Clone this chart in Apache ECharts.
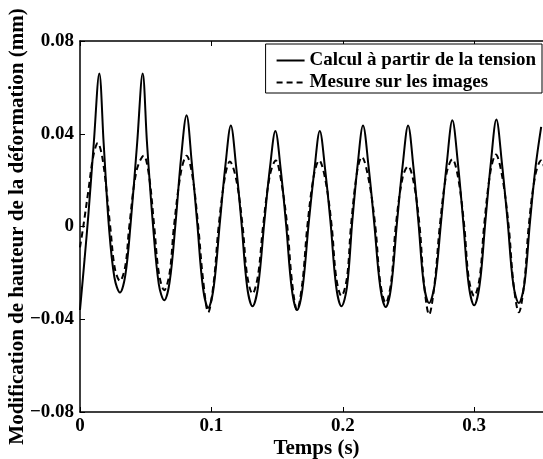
<!DOCTYPE html>
<html>
<head>
<meta charset="utf-8">
<script src="https://cdn.jsdelivr.net/npm/echarts@6/dist/echarts.min.js"></script>
<style>
  html, body { margin: 0; padding: 0; background: #fff; }
  #main { width: 543px; height: 459px; }
</style>
</head>
<body>
<div id="main"></div>
<script>
// noms des séries (légende)
const seriesNames = ["Calcul à partir de la tension", "Mesure sur les images"];
const xTitle = "Temps (s)";
const yTitle = "Modification de hauteur de la déformation (mm)";

// calcul à partir de la tension : [temps (s), hauteur (mm)]
const calcul = [
  [0, -0.036], [0.0035, -0.014], [0.0065, 0.006], [0.0105, 0.036], [0.0147, 0.066],
  [0.018, 0.036], [0.022, 0.0], [0.0262, -0.022], [0.0304, -0.0285],
  [0.0345, -0.021], [0.0385, 0.001], [0.0435, 0.036], [0.0477, 0.066],
  [0.051, 0.036], [0.0555, 0.001], [0.06, -0.025], [0.0641, -0.0318],
  [0.0682, -0.024], [0.0728, 0.002], [0.077, 0.03], [0.0811, 0.048],
  [0.085, 0.028], [0.0893, 0.001], [0.0935, -0.026], [0.0976, -0.035],
  [0.1018, -0.026], [0.1065, 0.002], [0.1108, 0.027], [0.1148, 0.0436],
  [0.1188, 0.026], [0.123, 0.001], [0.1272, -0.026], [0.1313, -0.0344],
  [0.1355, -0.026], [0.1403, 0.002], [0.1447, 0.026], [0.1487, 0.0412],
  [0.1527, 0.025], [0.157, 0.0], [0.1612, -0.027], [0.1652, -0.036],
  [0.1693, -0.027], [0.174, 0.001], [0.1785, 0.025], [0.1825, 0.0412],
  [0.1865, 0.025], [0.1908, 0.001], [0.195, -0.026], [0.199, -0.0344],
  [0.2032, -0.026], [0.2072, 0.002], [0.2114, 0.027], [0.2154, 0.0436],
  [0.2196, 0.026], [0.224, 0.001], [0.2285, -0.026], [0.2327, -0.0347],
  [0.2368, -0.026], [0.2413, 0.002], [0.2457, 0.027], [0.2497, 0.0436],
  [0.2537, 0.026], [0.2577, 0.001], [0.2617, -0.025], [0.2657, -0.033],
  [0.27, -0.025], [0.2748, 0.002], [0.2793, 0.028], [0.2834, 0.0458],
  [0.2875, 0.028], [0.2917, 0.002], [0.2958, -0.025], [0.3, -0.034],
  [0.3042, -0.025], [0.3085, 0.002], [0.3128, 0.028], [0.3169, 0.0461],
  [0.321, 0.028], [0.3255, 0.002], [0.3298, -0.025], [0.334, -0.033],
  [0.3382, -0.025], [0.3425, 0.002], [0.3468, 0.026], [0.351, 0.043]
];

// mesure sur les images : [temps (s), hauteur (mm)]
const mesure = [
  [0, -0.009], [0.0025, 0.0], [0.0065, 0.016], [0.01, 0.03], [0.0135, 0.036],
  [0.0175, 0.028], [0.023, 0.0], [0.0265, -0.018], [0.0304, -0.0235],
  [0.0345, -0.017], [0.0375, 0.0], [0.043, 0.024], [0.0485, 0.0305],
  [0.0525, 0.022], [0.0565, 0.0], [0.06, -0.02], [0.0641, -0.0275],
  [0.0682, -0.02], [0.0715, 0.0], [0.077, 0.024], [0.0811, 0.0305],
  [0.0855, 0.022], [0.09, 0.0], [0.0935, -0.022], [0.0976, -0.037],
  [0.1018, -0.024], [0.1055, 0.0], [0.1105, 0.022], [0.114, 0.028],
  [0.119, 0.02], [0.1238, 0.0], [0.1272, -0.021], [0.1313, -0.029],
  [0.1355, -0.021], [0.1393, 0.0], [0.1445, 0.022], [0.149, 0.0285],
  [0.153, 0.02], [0.1578, 0.0], [0.1612, -0.023], [0.1652, -0.036],
  [0.1693, -0.024], [0.173, 0.0], [0.178, 0.022], [0.182, 0.0285],
  [0.1868, 0.02], [0.1916, 0.0], [0.195, -0.022], [0.199, -0.03],
  [0.2032, -0.022], [0.2062, 0.0], [0.211, 0.024], [0.2145, 0.03],
  [0.2198, 0.02], [0.2248, 0.0], [0.2285, -0.024], [0.2327, -0.033],
  [0.2368, -0.024], [0.2403, 0.0], [0.2455, 0.021], [0.2497, 0.026],
  [0.254, 0.019], [0.2585, 0.0], [0.2617, -0.024], [0.2657, -0.038],
  [0.27, -0.024], [0.2738, 0.0], [0.279, 0.023], [0.2834, 0.029],
  [0.2878, 0.021], [0.2925, 0.0], [0.2958, -0.022], [0.3, -0.03],
  [0.3042, -0.022], [0.3075, 0.0], [0.3125, 0.024], [0.3165, 0.031],
  [0.3212, 0.022], [0.3263, 0.0], [0.3298, -0.024], [0.334, -0.037],
  [0.3382, -0.024], [0.3415, 0.0], [0.3465, 0.022], [0.351, 0.0285],
  [0.354, 0.024]
];

// graduations
const xTicks = [0, 0.1, 0.2, 0.3];
const yTicks = [-0.08, -0.04, 0, 0.04, 0.08];

const font = "Liberation Serif";

function yLabel(v) {
  if (Math.abs(v) < 1e-9) return "0";
  return (v < 0 ? "\u2212" : "") + Math.abs(v).toFixed(2);
}

let myChart = echarts.init(document.getElementById("main"));
myChart.setOption({
  backgroundColor: "#fff",
  animation: false,
  // le cadre déborde à droite (figure rognée)
  grid: { left: 80, top: 41, width: 473, bottom: 47, outerBoundsMode: "none" },
  legend: {
    right: 1,
    top: 44,
    orient: "vertical",
    backgroundColor: "#fff",
    borderColor: "#000",
    borderWidth: 1,
    padding: [7, 6, 1, 10],
    itemGap: 3,
    itemWidth: 28,
    itemHeight: 12,
    itemStyle: { opacity: 0 },
    textStyle: { fontFamily: font, fontWeight: "bold", fontSize: 19, color: "#000" },
    data: seriesNames
  },
  xAxis: [
    {
      type: "value",
      min: 0,
      max: 0.36,
      interval: 0.1,
      name: xTitle,
      nameLocation: "middle",
      nameGap: 26,
      nameMoveOverlap: false,
      nameTextStyle: { fontFamily: font, fontWeight: "bold", fontSize: 21, color: "#000" },
      axisLine: { onZero: false, lineStyle: { color: "#000", width: 1.5 } },
      axisTick: { inside: true, length: 5, lineStyle: { color: "#000" } },
      axisLabel: {
        fontFamily: font, fontWeight: "bold", fontSize: 19, color: "#000", margin: 5,
        customValues: xTicks,
        formatter: (v) => (v === 0 ? "0" : v.toFixed(1))
      },
      splitLine: { show: false }
    },
    {
      type: "value",
      position: "top",
      min: 0,
      max: 0.36,
      interval: 0.1,
      axisLine: { onZero: false, lineStyle: { color: "#000", width: 1.5 } },
      axisTick: { inside: true, length: 5, lineStyle: { color: "#000" } },
      axisLabel: { show: false },
      splitLine: { show: false }
    }
  ],
  yAxis: [
    {
      type: "value",
      min: -0.08,
      max: 0.08,
      interval: 0.04,
      name: yTitle,
      nameLocation: "middle",
      nameGap: 52,
      nameMoveOverlap: false,
      nameTextStyle: { fontFamily: font, fontWeight: "bold", fontSize: 21, color: "#000" },
      axisLine: { onZero: false, lineStyle: { color: "#000", width: 1.5 } },
      axisTick: { inside: true, length: 5, lineStyle: { color: "#000" } },
      axisLabel: {
        fontFamily: font, fontWeight: "bold", fontSize: 19, color: "#000", margin: 6,
        customValues: yTicks,
        formatter: yLabel
      },
      splitLine: { show: false }
    }
  ],
  series: [
    {
      name: seriesNames[0],
      type: "line",
      data: calcul,
      smooth: 0.35,
      symbol: "none",
      lineStyle: { color: "#000", width: 2 },
      itemStyle: { color: "#000" }
    },
    {
      name: seriesNames[1],
      type: "line",
      data: mesure,
      smooth: 0.35,
      symbol: "none",
      lineStyle: { color: "#000", width: 2, type: [6, 4] },
      itemStyle: { color: "#000" }
    }
  ]
});
</script>
</body>
</html>
